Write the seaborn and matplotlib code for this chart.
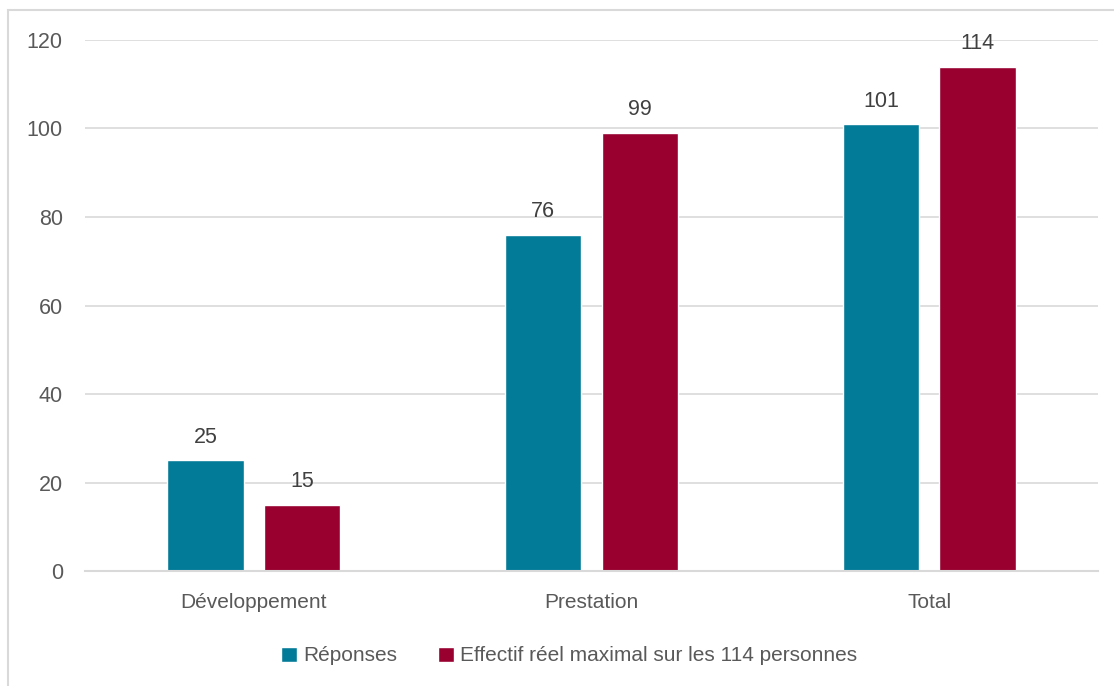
import matplotlib
matplotlib.use("Agg")
import matplotlib.pyplot as plt
import pandas as pd
import seaborn as sns
from matplotlib.patches import Rectangle

categories = ["Développement", "Prestation", "Total"]
reponses = [25, 76, 101]
effectif = [15, 99, 114]
series_names = ["Réponses", "Effectif réel maximal sur les 114 personnes"]
yticks = [0, 20, 40, 60, 80, 100, 120]

df = pd.DataFrame({
    "Catégorie": categories * 2,
    "Valeur": reponses + effectif,
    "Série": [series_names[0]] * 3 + [series_names[1]] * 3,
})

sns.set_style("white")
plt.rcParams["font.family"] = ["Liberation Sans", "DejaVu Sans"]

grey = "#595959"
fig = plt.figure(figsize=(11.14, 6.86), dpi=100)
ax = fig.add_axes([0.0763, 0.1676, 0.9093, 0.7741])

sns.barplot(data=df, x="Catégorie", y="Valeur", hue="Série",
            palette=["#027B99", "#990030"], width=0.572, gap=0.21,
            saturation=1, ax=ax, legend=True)

for cont in ax.containers:
    ax.bar_label(cont, padding=9, fontsize=15.5, color="#404040")

ax.set_ylim(0, 120)
ax.set_xlim(-0.5, 2.5)
ax.set_yticks(yticks)
ax.yaxis.grid(True, color="#d9d9d9", linewidth=1.2)
ax.set_axisbelow(True)
for s in ["top", "right", "left"]:
    ax.spines[s].set_visible(False)
ax.spines["bottom"].set_color("#d9d9d9")
ax.spines["bottom"].set_linewidth(1.5)
ax.tick_params(axis="both", length=0, colors=grey)
ax.tick_params(axis="y", pad=16, labelsize=15.5)
ax.tick_params(axis="x", pad=16, labelsize=15)
ax.set_xlabel("")
ax.set_ylabel("")

handles, labels = ax.get_legend_handles_labels()
ax.legend(handles, labels, loc="center", bbox_to_anchor=(0.478, -0.16),
          ncol=2, frameon=False, handlelength=0.75, handleheight=0.75,
          handletextpad=0.3, columnspacing=2.0,
          prop={"size": 15}, labelcolor=grey)

fig.patches.append(Rectangle((8 / 1114, -0.01), 1.0, 1 - 10 / 686 + 0.01,
                             transform=fig.transFigure, fill=False,
                             edgecolor="#d9d9d9", linewidth=1.5))

fig.savefig("out.png", dpi=100)
